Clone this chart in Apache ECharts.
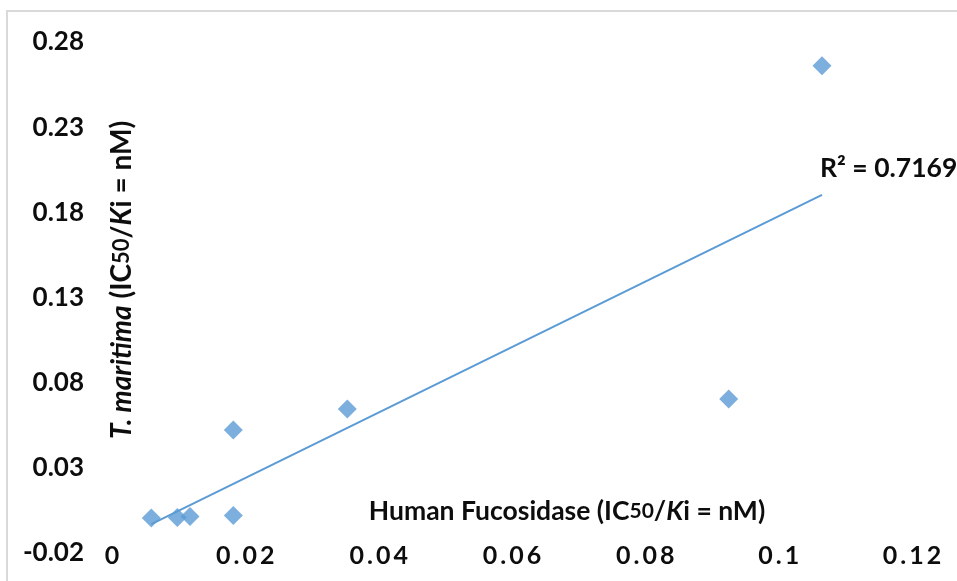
<!DOCTYPE html>
<html>
<head>
<meta charset="utf-8">
<script src="https://cdn.jsdelivr.net/npm/echarts@6/dist/echarts.min.js"></script>
<style>
  html, body { margin: 0; padding: 0; background: #ffffff; }
  #chart { width: 957px; height: 581px; }
</style>
</head>
<body>
<div id="chart"></div>
<script>
// Data
const humanFucosidase = [0.0059, 0.0098, 0.0117, 0.0182, 0.0182, 0.0353, 0.0925, 0.1065];
const tMaritima       = [0.0005, 0.0008, 0.0015, 0.0020, 0.0522, 0.0645, 0.0704, 0.2660];
const xAxisRange = [0, 0.12, 0.02];          // min, max, step
const yAxisRange = [-0.02, 0.28, 0.05];      // min, max, step
const r2Text = 'R² = 0.7169';
const xTitle = 'Human Fucosidase (IC{s|50}/{i|K}i = nM)';
const yTitle = '{i|T. maritima} (IC{s|50}/{i|K}i = nM)';

const points = humanFucosidase.map((x, i) => [x, tMaritima[i]]);

// least squares linear trend line
const n = points.length;
const mx = humanFucosidase.reduce((a, b) => a + b, 0) / n;
const my = tMaritima.reduce((a, b) => a + b, 0) / n;
let sxy = 0, sxx = 0;
for (let i = 0; i < n; i++) {
  sxy += (humanFucosidase[i] - mx) * (tMaritima[i] - my);
  sxx += (humanFucosidase[i] - mx) * (humanFucosidase[i] - mx);
}
const slope = sxy / sxx;
const intercept = my - slope * mx;
const xMinData = Math.min(...humanFucosidase);
const xMaxData = Math.max(...humanFucosidase);
const trend = [[xMinData, intercept + slope * xMinData], [xMaxData, intercept + slope * xMaxData]];

const blue = '#5b9bd5';
const textColor = '#0d0d0d';
const titleFont = 'Lato';

function titleRich(size) {
  return {
    i: { fontStyle: 'italic', fontWeight: 'bold', fontSize: size, fontFamily: titleFont, color: textColor },
    s: { fontWeight: 'bold', fontSize: Math.round(size * 0.8), fontFamily: titleFont, color: textColor }
  };
}

const chart = echarts.init(document.getElementById('chart'), null, { renderer: 'canvas' });
chart.setOption({
  animation: false,
  backgroundColor: '#ffffff',
  graphic: [{
    type: 'rect',
    silent: true,
    shape: { x: 7, y: 11, width: 1000, height: 700 },
    style: { fill: 'none', stroke: '#d9d9d9', lineWidth: 2 },
    z: -10
  }],
  grid: { left: 112, right: 45, top: 42, bottom: 28, containLabel: false, outerBoundsMode: 'none' },
  xAxis: {
    type: 'value',
    min: xAxisRange[0],
    max: xAxisRange[1],
    interval: xAxisRange[2],
    offset: -20,
    axisLine: { show: false },
    axisTick: { show: false },
    splitLine: { show: false },
    axisLabel: {
      margin: 10,
      fontFamily: 'Lato',
      fontWeight: 'bold',
      fontSize: 25,
      color: textColor,
      showMinLabel: true,
      showMaxLabel: true,
      formatter: function (v) {
        return String(v).split('').map(function (c) { return '{c|' + c + '}'; }).join('');
      },
      rich: {
        c: { fontFamily: 'Lato', fontWeight: 'bold', fontSize: 25, color: textColor, padding: [0, 1.5, 0, 1.5] }
      }
    },
    name: xTitle,
    nameLocation: 'middle',
    nameGap: -35,
    nameMoveOverlap: false,
    nameTextStyle: {
      fontFamily: titleFont,
      fontWeight: 'bold',
      fontSize: 26.5,
      color: textColor,
      padding: [0, 0, 0, 110],
      rich: titleRich(26.5)
    }
  },
  yAxis: {
    type: 'value',
    min: yAxisRange[0],
    max: yAxisRange[1],
    interval: yAxisRange[2],
    axisLine: { show: false },
    axisTick: { show: false },
    splitLine: { show: false },
    axisLabel: {
      margin: 28,
      fontFamily: 'Lato',
      fontWeight: 'bold',
      fontSize: 26,
      color: textColor,
      showMinLabel: true,
      showMaxLabel: true
    },
    name: yTitle,
    nameLocation: 'middle',
    nameRotate: 90,
    nameGap: -24,
    nameMoveOverlap: false,
    nameTextStyle: {
      fontFamily: titleFont,
      fontWeight: 'bold',
      fontSize: 28,
      color: textColor,
      padding: [0, 0, 0, 35],
      rich: titleRich(28)
    }
  },
  series: [
    {
      type: 'scatter',
      data: points,
      symbol: 'diamond',
      symbolSize: [19, 19],
      itemStyle: { color: blue },
      z: 2
    },
    {
      type: 'line',
      data: trend,
      showSymbol: false,
      symbol: 'none',
      lineStyle: { color: blue, width: 2 },
      silent: true,
      z: 3,
      endLabel: {
        show: true,
        formatter: r2Text,
        distance: 0,
        offset: [-2, -26],
        fontFamily: 'Lato',
        fontWeight: 'bold',
        fontSize: 26.5,
        color: textColor
      }
    }
  ]
});
</script>
</body>
</html>
